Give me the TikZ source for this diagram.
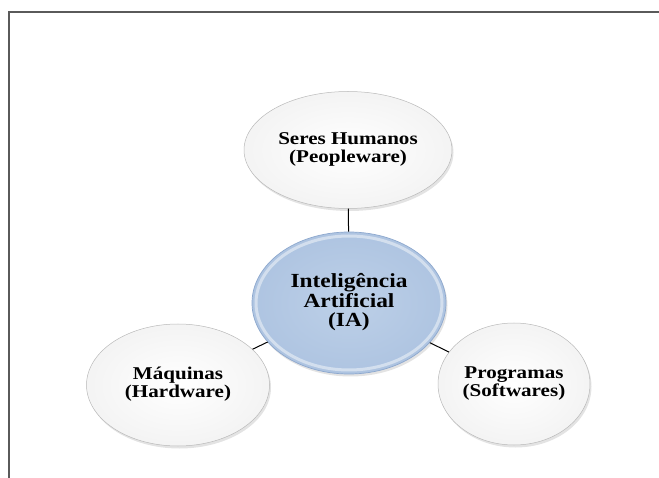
\documentclass[tikz,border=0pt]{standalone}
\usepackage{fontspec}
\setmainfont{Liberation Serif}
\usetikzlibrary{shapes.geometric,shadows}
\definecolor{framegray}{HTML}{5A5A5A}
\definecolor{bluein}{HTML}{BDD0E8}
\definecolor{blueout}{HTML}{AEC4E1}
\definecolor{blueline}{HTML}{8DA8CE}
\newcommand{\wtxt}[2]{\scalebox{1.17}[1]{\begin{tabular}{@{}c@{}}#2\end{tabular}}}
\tikzset{
  bubble/.style={ellipse, inner sep=0pt, align=center,
    inner color=white, outer color=gray!9,
    draw=gray!55, line width=0.5pt,
    drop shadow={opacity=0.22, shadow xshift=1.5pt, shadow yshift=-2.5pt},
    font=\fontsize{18}{17}\selectfont\bfseries},
  hub/.style={ellipse, inner sep=0pt, align=center,
    inner color=bluein, outer color=blueout,
    draw=blueline, line width=0.7pt,
    drop shadow={opacity=0.22, shadow xshift=1.5pt, shadow yshift=-2.5pt},
    font=\fontsize{20}{18}\selectfont\bfseries},
  rim/.style={draw=white, opacity=0.45, line width=3pt},
  link/.style={draw=black, line width=1pt},
  frameline/.style={draw=framegray, line width=1.3pt}
}
\begin{document}
\begin{tikzpicture}[x=1pt,y=-1pt]
\useasboundingbox (0,0) rectangle (659,478);
\coordinate (fc) at (9,12);
\coordinate (fr) at (659,12);
\coordinate (fb) at (9,478);
\draw[frameline] (fr) -- (fc) -- (fb);
\node[bubble, minimum width=208pt, minimum height=117pt] (top) at (348,150)
  {\wtxt{}{Seres Humanos\\(Peopleware)}};
\node[bubble, minimum width=183pt, minimum height=122pt] (left) at (178,385)
  {\wtxt{}{Máquinas\\(Hardware)}};
\node[bubble, minimum width=152pt, minimum height=122pt] (right) at (514,384)
  {\wtxt{}{Programas\\(Softwares)}};
\node[hub, minimum width=194pt, minimum height=142pt] (hub) at (349,303)
  {\wtxt{}{Inteligência\\Artificial\\(IA)}};
\draw[rim] (hub.center) ellipse [x radius=93, y radius=67];
\draw[link] (hub) -- (top);
\draw[link] (hub) -- (left);
\draw[link] (hub) -- (right);
\end{tikzpicture}
\end{document}
